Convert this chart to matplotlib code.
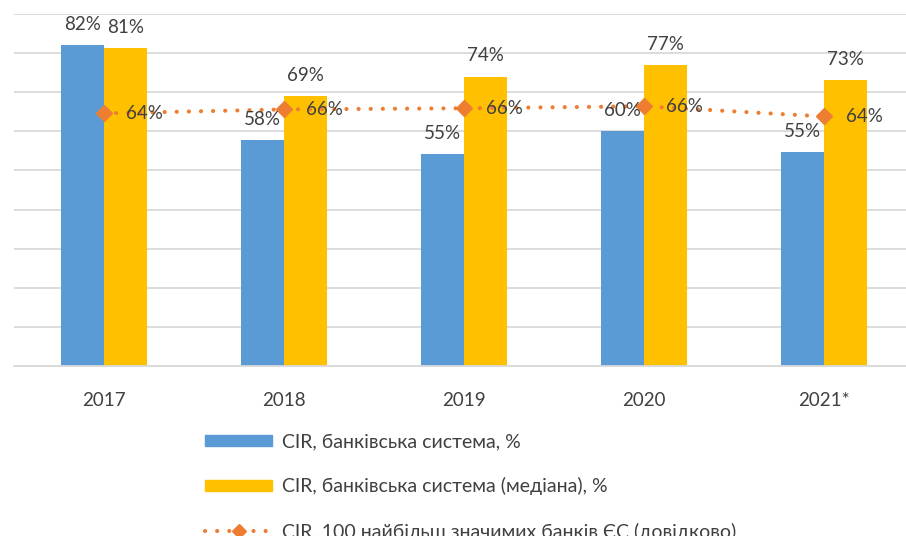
import matplotlib
matplotlib.use("Agg")
import matplotlib.pyplot as plt
from matplotlib.patches import Patch
from matplotlib.lines import Line2D
import numpy as np

plt.rcParams['font.family'] = ['Lato', 'Roboto', 'DejaVu Sans']

categories = ['2017', '2018', '2019', '2020', '2021*']
cir_system = [82, 58, 55, 60, 55]
cir_median = [81, 69, 74, 77, 73]
cir_eu = [64, 66, 66, 66, 64]
cir_system_pos = [82, 57.7, 54.2, 60, 54.6]
cir_median_pos = [81.3, 69, 74, 77, 73]
cir_eu_pos = [64.6, 65.6, 65.9, 66.4, 63.8]

label_system = 'CIR, банківська система, %'
label_median = 'CIR, банківська система (медіана), %'
label_eu = 'CIR, 100 найбільш значимих банків ЄС (довідково)'

blue = '#5B9BD5'
gold = '#FFC000'
orange = '#ED7D31'
txt = '#404040'

W, H = 906, 536
fig = plt.figure(figsize=(W / 100, H / 100), dpi=100)
ax = fig.add_axes([14 / W, (H - 366) / H, 900 / W, 352 / H])

x = np.arange(len(categories))
bw = 0.24
ax.bar(x - bw / 2, cir_system_pos, bw, color=blue, zorder=2)
ax.bar(x + bw / 2, cir_median_pos, bw, color=gold, zorder=2)
ax.plot(x, cir_eu_pos, color=orange, lw=3.0, linestyle=(0, (0.01, 2.9)),
        dash_capstyle='round', marker='D', markersize=8.5, zorder=3)

ax.set_xlim(-0.5, 4.5)
ax.set_ylim(0, 90)
ax.set_yticks(np.arange(0, 91, 10))
ax.yaxis.grid(True, color='#D9D9D9', lw=1.3, zorder=0)
ax.set_axisbelow(True)
for s in ['top', 'right', 'left']:
    ax.spines[s].set_visible(False)
ax.spines['bottom'].set_color('#D9D9D9')
ax.spines['bottom'].set_linewidth(1.3)
ax.tick_params(axis='y', left=False, labelleft=False)
ax.tick_params(axis='x', bottom=False, pad=15, labelsize=13.5, labelcolor=txt)
ax.set_xticks(x)
ax.set_xticklabels(categories)

fs = 13.5
for i in range(len(categories)):
    ax.annotate(f'{cir_system[i]}%', (x[i] - bw / 2, cir_system_pos[i]),
                xytext=(0, 11), textcoords='offset points', ha='center',
                va='baseline', fontsize=fs, color=txt, zorder=4)
    ax.annotate(f'{cir_median[i]}%', (x[i] + bw / 2, cir_median_pos[i]),
                xytext=(0, 11), textcoords='offset points', ha='center',
                va='baseline', fontsize=fs, color=txt, zorder=4)
    ax.annotate(f'{cir_eu[i]}%', (x[i], cir_eu_pos[i]),
                xytext=(16, 0), textcoords='offset points', ha='left',
                va='center', fontsize=fs, color=txt, zorder=4)

handles = [
    Patch(color=blue, label=label_system),
    Patch(color=gold, label=label_median),
    Line2D([], [], color=orange, lw=3.0, linestyle=(0, (0.01, 2.9)),
           dash_capstyle='round', marker='D', markersize=7, label=label_eu),
]
fig.legend(handles=handles, loc='upper left', bbox_to_anchor=(205 / W, 1 - 433 / H),
           frameon=False, fontsize=14, labelcolor=txt, handlelength=3.45,
           handleheight=0.5, handletextpad=0.5, labelspacing=1.4, borderpad=0,
           borderaxespad=0)

fig.savefig('out.png', dpi=100)
